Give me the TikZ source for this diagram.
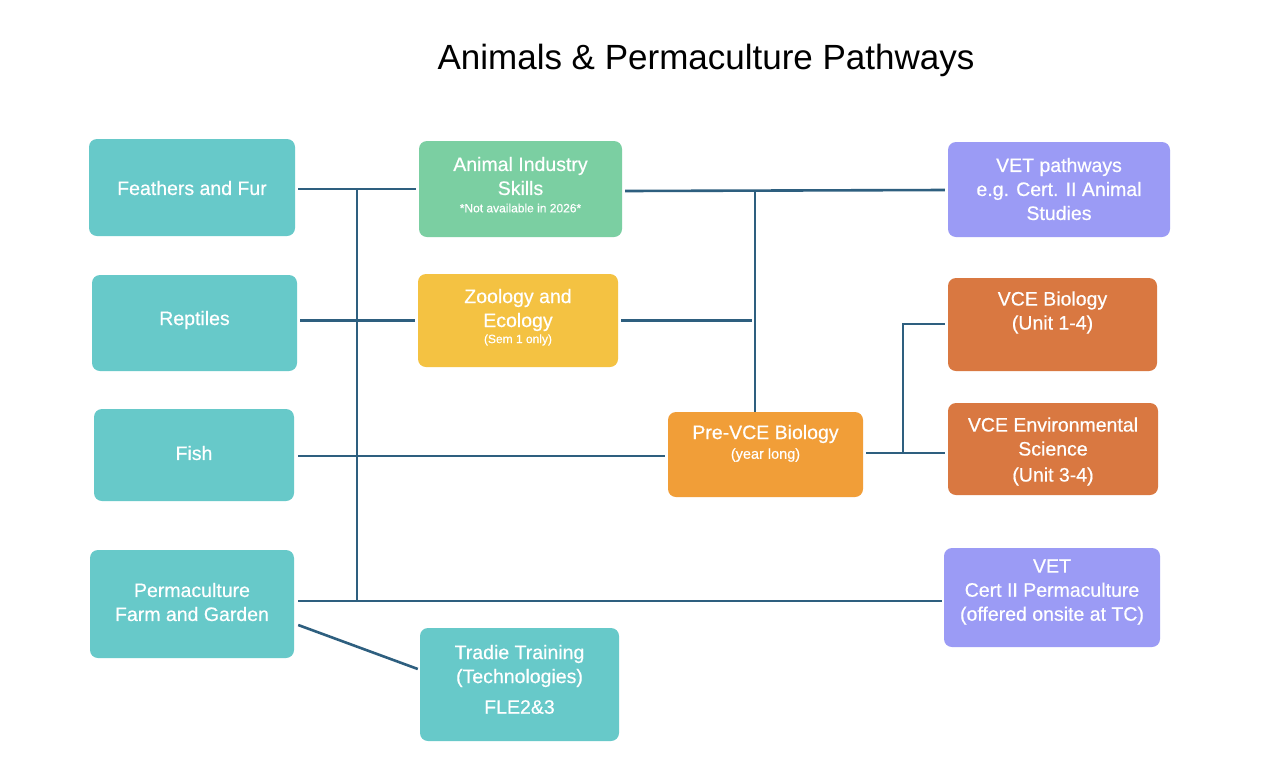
\documentclass[tikz,border=0pt]{standalone}
\usepackage{fontspec}
\setmainfont{Liberation Sans}
\newfontfamily\boxfont[FakeBold=0.5]{Liberation Sans}
\definecolor{teal1}{HTML}{67C9C9}
\definecolor{green1}{HTML}{7BCFA2}
\definecolor{yellow1}{HTML}{F4C242}
\definecolor{orange1}{HTML}{F19E38}
\definecolor{rust1}{HTML}{D97841}
\definecolor{lav1}{HTML}{9B9BF5}
\definecolor{line1}{HTML}{2E5F7F}
\begin{document}
\begin{tikzpicture}[x=1pt,y=-1pt,
  box/.style={rounded corners=8pt, draw=none, inner sep=0pt},
  txt/.style={text=white, align=center, inner sep=0pt, font=\boxfont\fontsize{19.5}{24}\selectfont},
  small/.style={text=white, align=center, inner sep=0pt, font=\boxfont\fontsize{12}{14}\selectfont},
  conn/.style={draw=line1, line width=2.6pt}]
\useasboundingbox[fill=white] (0,0) rectangle (1282,780);
% title
\node[font=\fontsize{35}{40}\selectfont, inner sep=0pt] (title) at (706,60) {Animals \& Permaculture Pathways};
% boxes
\node[box, fill=teal1, minimum width=206pt, minimum height=97pt] (fur) at (192,187.5) {};
\node[box, fill=teal1, minimum width=205pt, minimum height=96pt] (rep) at (194.5,323) {};
\node[box, fill=teal1, minimum width=200pt, minimum height=92pt] (fish) at (194,455) {};
\node[box, fill=teal1, minimum width=204pt, minimum height=108pt] (perm) at (192,604) {};
\node[box, fill=green1, minimum width=203pt, minimum height=96pt] (ais) at (520.5,189) {};
\node[box, fill=yellow1, minimum width=200pt, minimum height=93pt] (zoo) at (518,320.5) {};
\node[box, fill=orange1, minimum width=195pt, minimum height=85pt] (pre) at (765.5,454.5) {};
\node[box, fill=teal1, minimum width=199pt, minimum height=113pt] (tradie) at (519.5,684.5) {};
\node[box, fill=lav1, minimum width=222pt, minimum height=95pt] (vetp) at (1059,189.5) {};
\node[box, fill=rust1, minimum width=209pt, minimum height=93pt] (vceb) at (1052.5,324.5) {};
\node[box, fill=rust1, minimum width=210pt, minimum height=92pt] (vcee) at (1053,449) {};
\node[box, fill=lav1, minimum width=216pt, minimum height=99pt] (vetc) at (1052,597.5) {};
% texts
\node[txt] (furT) at (192,188) {Feathers and Fur};
\node[txt] (repT) at (194.5,320) {Reptiles};
\node[txt] (fishT) at (194,453) {Fish};
\node[txt] (permT) at (192,602) {Permaculture\\Farm and Garden};
\node[txt] (aisT) at (520.5,176) {Animal Industry\\Skills};
\node[small] (aisS) at (520.5,208) {*Not available in 2026*};
\node[txt] (zooT) at (518,310) {Zoology and\\Ecology};
\node[small] (zooS) at (518,340) {(Sem 1 only)};
\node[txt] (preT) at (765.5,434) {Pre-VCE Biology};
\node[small, font=\boxfont\fontsize{14.5}{16}\selectfont] (preS) at (765.5,455) {(year long)};
\node[txt] (tradT) at (519.5,666) {Tradie Training\\(Technologies)};
\node[txt] (tradS) at (519.5,707) {FLE2\&3};
\node[txt] (vetpT) at (1059,189) {VET pathways\\e.g. Cert. II Animal\\Studies};
\node[txt] (vcebT) at (1052.5,312.5) {VCE Biology\\(Unit 1-4)};
\node[txt] (vceeT) at (1053,451.5) {VCE Environmental\\Science\\[2pt](Unit 3-4)};
\node[txt] (vetcT) at (1052,592) {VET\\Cert II Permaculture\\(offered onsite at TC)};
% junction coordinates
\coordinate (j1) at (357,189);
\coordinate (j2) at (357,601);
\coordinate (j3) at (755,191);
\coordinate (j4) at (755,409);
\coordinate (j5) at (903,453);
\coordinate (j6) at (903,324);
% connectors
\draw[conn] ([xshift=3pt]fur.east |- j1) -- ([xshift=-3pt]ais.west |- j1);
\draw[conn] (j1) -- (j2);
\draw[conn] ([xshift=3pt]rep.east |- zoo.west) -- ([xshift=-3pt]zoo.west);
\draw[conn] ([xshift=4pt]fish.east |- 0,456) -- ([xshift=-3pt]pre.west |- 0,456);
\draw[conn] ([xshift=4pt]perm.east |- j2) -- ([xshift=-2pt]vetc.west |- j2);
\draw[conn] ([xshift=4pt]perm.east |- 0,625) -- ([xshift=-2pt]tradie.west |- 0,669);
\draw[conn] ([xshift=3pt]ais.east |- j3) -- ([xshift=-3pt]vetp.west |- 0,190);
\draw[conn] (j3) -- (j4 |- pre.north);
\draw[conn] ([xshift=3pt]zoo.east) -- ([xshift=-3pt]zoo.east -| j4);
\draw[conn] ([xshift=3pt]pre.east |- j5) -- ([xshift=-3pt]vcee.west |- j5);
\draw[conn] (j5) -- (j6) -- ([xshift=-3pt]vceb.west |- j6);
\end{tikzpicture}
\end{document}
